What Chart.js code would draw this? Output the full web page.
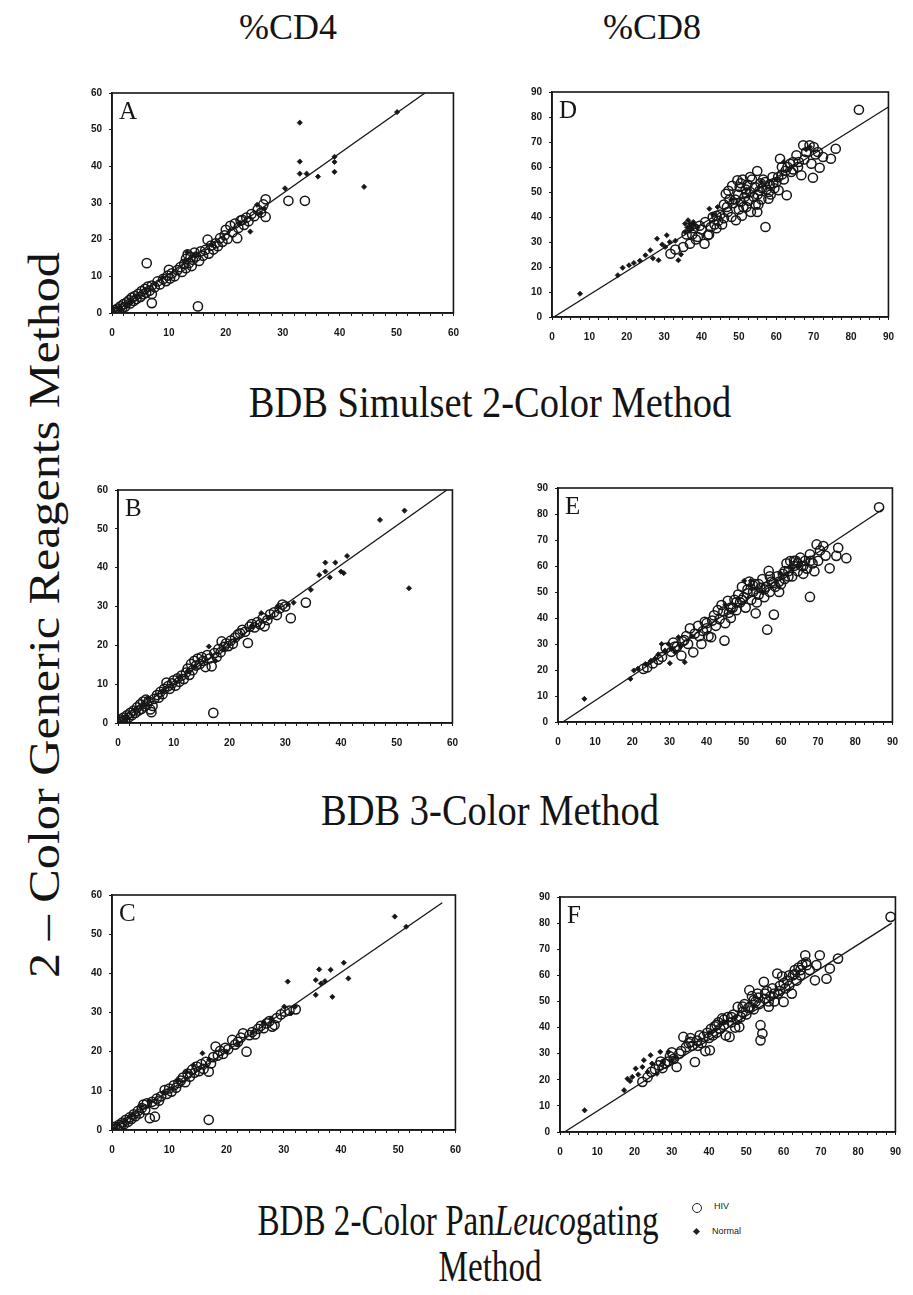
<!DOCTYPE html>
<html>
<head>
<meta charset="utf-8">
<script src="https://cdn.jsdelivr.net/npm/chart.js@4.4.1/dist/chart.umd.min.js"></script>
<style>
  body { margin: 0; background: #fff; width: 913px; height: 1295px; position: relative; overflow: hidden; }
  canvas.panel { position: absolute; }
  .t { position: absolute; white-space: nowrap; color: #141414; font-family: "Liberation Serif", "Times New Roman", serif; }
  .lg { position: absolute; font-family: "Liberation Sans", Arial, sans-serif; font-size: 9px; color: #222; }
</style>
</head>
<body>

<div class="t" style="left:288px; top:9px; font-size:36px; line-height:36px; transform:translateX(-50%);">%CD4</div>
<div class="t" style="left:652px; top:9px; font-size:36px; line-height:36px; transform:translateX(-50%);">%CD8</div>

<div class="t" style="left:45px; top:615px; font-size:44px; line-height:44px; transform:translate(-50%,-50%) rotate(-90deg) scaleX(1.14);">2 – Color Generic Reagents Method</div>

<div class="t" style="left:490px; top:385px; font-size:38.5px; line-height:38.5px; transform:translateX(-50%) scaleY(1.14); transform-origin:50% 85%;">BDB Simulset 2-Color Method</div>
<div class="t" style="left:490px; top:793px; font-size:38.5px; line-height:38.5px; transform:translateX(-50%) scaleY(1.14); transform-origin:50% 85%;">BDB 3-Color Method</div>
<div class="t" style="left:458px; top:1203px; font-size:38.5px; line-height:38.5px; transform:translateX(-50%) scale(0.86,1.14); transform-origin:50% 85%;">BDB 2-Color Pan<i>Leuco</i>gating</div>
<div class="t" style="left:490px; top:1249px; font-size:38.5px; line-height:38.5px; transform:translateX(-50%) scale(0.86,1.14); transform-origin:50% 85%;">Method</div>

<div style="position:absolute; left:692px; top:1203px; width:8px; height:8px; border:1.5px solid #222; border-radius:50%;"></div>
<div class="lg" style="left:714px; top:1201px;">HIV</div>
<div style="position:absolute; left:694px; top:1229px; width:5px; height:5px; background:#222; transform:rotate(45deg);"></div>
<div class="lg" style="left:712px; top:1226px;">Normal</div>

<canvas id="cA" class="panel"></canvas>
<canvas id="cD" class="panel"></canvas>
<canvas id="cB" class="panel"></canvas>
<canvas id="cE" class="panel"></canvas>
<canvas id="cC" class="panel"></canvas>
<canvas id="cF" class="panel"></canvas>

<script>
// ---- data: [x, y] pairs ----

// A: %CD4, Simulset 2-colour
var hivA = [[0.3,0.2],[0.5,0.8],[0.8,0.4],[1,1.2],[1.2,0.6],[1.5,1.8],[1.8,1.3],[2,2.4],[2.3,1.7],[2.6,2.9],[3,3.5],[3.2,2.6],[3.5,4.2],[3.8,3.3],[4,4.6],[4.3,3.8],[4.6,5.2],[5,4.4],[5.2,6],[5.5,5.1],[5.8,6.6],[6,5.5],[6.3,7.2],[6.6,6.1],[7,7.5],[7,2.7],[7,5.2],[6.1,13.6],[7.5,7],[8,8.6],[8.4,7.8],[9,9.3],[9.5,8.7],[9.8,10.2],[10,11.8],[10.2,9.4],[10.5,10.8],[11,10],[11.5,11.7],[12,12.5],[12.3,11.2],[12.7,13.4],[13,14.8],[13,12.2],[13.3,16],[13.5,13.6],[13.8,15.2],[14,12.8],[14.2,14.5],[14.5,16.5],[14.8,15.4],[15.1,1.8],[15.3,14.2],[15.6,16.8],[16,15.6],[16.4,17.2],[16.8,20],[17,16.2],[17.4,18.4],[17.8,17.3],[18.2,19],[18.6,18.2],[19,20.4],[19.4,19.4],[19.8,21.2],[20,22.7],[20.3,20.2],[20.8,23.8],[21.2,22],[21.6,24.4],[22,20.4],[22.2,23.2],[22.6,25.2],[22.9,25.4],[23.2,24],[23.6,26],[24,25],[24.5,27],[25,26.4],[25.6,28.2],[26.2,27.4],[26.6,29.6],[27,31],[27,26.2],[31,30.6],[33.9,30.6]];
var nrmA = [[0.5,0.3],[1.5,1.2],[3.3,3],[4.2,4.5],[8.8,9.6],[12.8,14.2],[13.2,16.6],[14.5,15.8],[17.5,18.6],[22.5,24.6],[24.3,22.2],[25.5,29.5],[26.1,27.2],[26.8,28.4],[30.4,34],[33,51.9],[33,41.3],[33,38],[34.2,38],[36.2,37.2],[39.1,42.6],[39.1,41.2],[39.1,38.5],[44.3,34.4],[50.1,54.8]];
var fitA = [[0,-0.3],[55,60]];

// D: %CD8, Simulset 2-colour
var hivD = [[31.7,25.3],[33,27],[35.1,28],[36.9,29.3],[37.5,33],[38,35.5],[38.5,31],[39.5,36.5],[40.8,29.3],[41.7,32.7],[41,38],[42.5,36],[43,40],[43.5,37],[44,35.5],[44.5,38.5],[45,41],[45.5,37],[46,39.5],[46.5,49.3],[46.8,44],[47,42],[47.5,47],[48,40],[48.5,45.5],[49.2,38.7],[49.6,54.7],[49.8,49],[50,43],[50.2,52],[50.5,46],[50.8,40.5],[51,55],[51.5,48],[51.8,51],[52,44],[52.3,53],[52.6,46.5],[53,50],[53.2,42],[53.5,55],[54,48],[54.3,52],[54.9,58.4],[54.9,42],[55.2,45],[55.5,50.5],[55.8,53.5],[56,47],[56.5,55],[57.1,36],[57.4,51],[57.9,47.3],[58.2,53],[58.5,49],[59,56],[59.5,51.5],[60,54],[60.6,50.7],[61,63.3],[61.5,57],[62,55],[62.8,48.7],[63,60],[63.7,61.3],[64,58],[64.5,62],[65.4,64.7],[65.8,60],[66.7,56.7],[67.2,68.7],[67.5,63],[68,66],[68.9,68.7],[69.4,61.3],[69.8,55.7],[70.5,65],[71.1,66],[71.6,59.7],[72.5,64],[74.6,63.3],[75.9,67.3],[82.1,82.9],
    [44,40.5],[46,45],[47.2,50.5],[48.2,52.5],[49,47],[50.5,53.5],[51.2,44],[52,49.5],[53,56],[54.5,45],[55,49],[56.2,51.5],[57,54],[58,50],[59.2,53.5],[60.5,56],[61.5,60],[62.5,58.5],[64.5,59],[66,62],[70,68],[40,35],[42,33],[36,33],[39,32]];
var nrmD = [[7.5,9.3],[17.6,16.7],[18.9,19.7],[20.6,20.7],[21.9,21.6],[23.5,22.5],[25,24.7],[26.3,26.7],[27,23.5],[28.1,31.3],[28.5,22.7],[29.5,29],[30.3,28],[30.7,32.7],[31.5,30],[33,30.5],[33.8,22.7],[34.5,25],[35.6,37.3],[35.6,34],[36.4,38.7],[36.9,37.3],[37.5,35.5],[38,37],[39,36],[42.1,43.3],[43,41],[44.3,44],[48,47],[52,51],[56,54],[60,55],[62,62],[68,67],[69,68],[36.2,35.8],[37,36.5],[36.8,34.5],[37.8,38]];
var fitD = [[0.5,0],[90,84]];

// B: %CD4, 3-colour
var hivB = [[0.2,0.3],[0.5,0.9],[0.8,0.5],[1,1.4],[1.3,0.8],[1.6,2],[1.9,1.4],[2.2,2.6],[2.5,2],[2.8,3.2],[3.1,2.6],[3.4,4],[3.7,3.2],[4,4.8],[4.2,3.6],[4.5,5.5],[4.8,4.3],[5,6],[5.2,4.8],[5.5,5.6],[5.8,3.5],[6,2.8],[6.2,4.4],[6.5,6.2],[7,7.2],[7.3,6.5],[7.6,8],[8,7.4],[8.3,8.8],[8.7,10.4],[9,9.5],[9.3,8.8],[9.7,10.2],[10,11],[10.3,9.6],[10.7,11.5],[11,10.6],[11.4,12.2],[11.8,11.3],[12.2,13],[12.5,14],[12.8,12.4],[13.1,15.2],[13.4,13.6],[13.7,16],[14,14.8],[14.3,16.6],[14.7,15.2],[15,17],[15.3,16],[15.7,14.4],[16,17.5],[16.4,16.6],[16.8,14.6],[17.1,2.6],[17.3,18],[17.7,17],[18,19],[18.4,18.2],[18.6,21],[19,19.6],[19.4,20.5],[19.8,19.8],[20.2,21.2],[20.6,20.4],[21,22],[21.5,22.8],[21.9,23.1],[22.3,24],[22.8,23.5],[23.3,20.6],[23.6,24.8],[24,25.5],[24.5,24.6],[25,26],[25.5,25.4],[26,27],[26.3,24.9],[26.8,26.5],[27.3,28],[28,28.5],[28.5,27.8],[29,29.5],[29.5,30.5],[30,30],[31,27],[33.7,31]];
var nrmB = [[0.6,0.2],[1.5,1.2],[3,3.4],[5.3,6.5],[8,8.2],[11,11.8],[12.5,13.4],[13.8,14.5],[16.3,19.7],[17.5,16],[19,19],[21,21.5],[24,25],[25.7,28.3],[27,27],[28.7,30],[30.5,30.6],[31.5,31],[34.6,34.3],[36.1,38.1],[37.2,39],[37.2,41.3],[38,37.5],[39,41.3],[40,39],[40.5,38.6],[41.1,43],[47,52.3],[51.4,54.7],[52.2,34.7]];
var fitB = [[0,0],[59,60]];

// E: %CD8, 3-colour
var hivE = [[23,20.4],[24,21],[25.5,22.5],[27,24],[28,25],[29,28.5],[30.5,27],[31,30.5],[32,29],[33.2,25.5],[33.5,31],[34.5,33],[35,30],[35.5,36],[36.4,26.8],[36.8,34],[37.7,37],[38.6,30],[39,35],[39.5,38.5],[40,36],[40.5,33],[41.2,32.6],[41.5,39],[42,41],[42.5,37],[43,43],[43.5,39.5],[44,45],[44.8,31.3],[45,38],[45.7,46.6],[46,42],[46.5,40],[47,44],[47.5,47],[48,43],[48.5,49],[49,46],[49.5,52],[50,48],[50.5,44],[51,51],[51.5,54],[52,47],[52.5,50],[53,53],[53.2,41.8],[53.5,46],[54,49],[54.5,51.5],[55,55],[55.5,48],[56,52],[56.3,35.5],[56.7,58.1],[57,50],[57.5,54],[58.1,41.3],[58.5,52],[59,56],[59.5,50],[60,53],[60.5,57],[61,55],[61.5,61],[62,58],[62.5,61.9],[63,56],[63.5,60],[64,62],[64.5,58],[65.2,63.2],[65.5,60],[66,57],[66.5,62],[67,59],[67.8,64.5],[67.8,48.1],[68.5,61],[69,58],[69.6,68.3],[70,62],[71.4,67.7],[72,64],[73.1,59.1],[74.9,63.9],[75.4,67],[77.6,63],[86.4,82.6],
    [44.5,42.5],[46.5,44],[48,46],[49.5,47],[51,49.5],[52.5,52.5],[54,53],[55.5,51],[57,56],[58,53.5],[59.5,54],[61,58],[62,56],[63.5,62],[64.5,61],[66,60],[68,62],[70.5,66],[38,33],[40,38],[34,31.5],[31.5,29]];
var nrmE = [[7.1,8.9],[19.5,16.6],[20.4,19.8],[21.5,20.5],[23.5,22.3],[25,23.5],[26.1,24.3],[27,26],[27.9,30],[28.8,27.5],[29.7,30],[30.1,22.6],[30.5,28],[31.5,26.8],[32.4,32.6],[33,29],[34.1,23],[36,33],[45,45],[50.1,54.3],[51.9,54.3],[52,52.5],[55,50],[60,57],[63,59],[65,60]];
var fitE = [[1.3,0],[87.6,82]];

// C: %CD4, PanLeucogating
var hivC = [[0.2,0.3],[0.5,0.8],[0.9,0.5],[1.2,1.3],[1.5,0.9],[1.8,1.9],[2.1,1.5],[2.4,2.6],[2.8,2.1],[3.1,3.2],[3.4,2.8],[3.8,4],[4.1,3.5],[4.5,4.8],[4.8,4.2],[5.2,5.6],[5.5,6.5],[5.8,5.2],[6.1,6.8],[6.6,3],[7.5,3.4],[7,7.2],[7.4,6.6],[7.8,8],[8.2,7.5],[8.6,8.6],[9.2,10.2],[9.6,9.2],[10,10.6],[10.4,9.8],[10.8,11.4],[11.2,10.8],[11.6,12],[12,12.6],[12.4,13.4],[12.8,12.2],[13.2,14.4],[13.6,13.6],[14,15.4],[14.4,14.6],[14.8,16.2],[15.2,15],[15.6,16.8],[16,15.6],[16.4,17.4],[16.9,14.9],[16.9,2.6],[17.3,17],[17.7,18.6],[18.1,21.3],[18.5,19],[18.9,20.2],[19.4,19.4],[19.8,21],[20.3,20.6],[21,23],[21.5,21.8],[22,22.5],[22.5,23.6],[22.9,24.7],[23.5,20],[24,24.2],[24.5,25],[25,24.4],[25.5,25.8],[26,26.6],[26.5,26],[27,27.2],[27.5,27.8],[28,26.4],[28.4,26.8],[28.8,28.6],[29.5,29.5],[30.2,30.2],[31,30.5],[32.1,30.8]];
var nrmC = [[0.4,0.2],[1,1.6],[2.2,2.2],[3.5,3.8],[5,6],[6.5,7.4],[9,9.6],[11.5,12.6],[13,14.8],[14.2,16.6],[15.8,19.6],[17,18],[20,20],[22,22],[24.5,24.8],[26.5,27.5],[27.8,28.5],[30.1,31.5],[30.7,37.9],[31.3,29.8],[32,31.5],[35.6,34.5],[35.6,38.3],[36.2,41],[36.5,37.4],[37.2,38],[38.2,40.9],[38.5,34],[40.5,42.7],[41.3,38.7],[49.4,54.5],[51.4,51.9]];
var fitC = [[0,0],[57.7,58]];

// F: %CD8, PanLeucogating
var hivF = [[22.1,19.2],[23.5,21],[24.5,23],[25.5,24],[26.5,25.5],[27.5,24.5],[28.2,26.2],[29,27],[29.5,29],[30.5,28],[31.3,24.9],[32,30],[32.5,31],[33.1,36.4],[33.8,32.5],[34.5,34],[35,36],[35.5,33],[36.2,26.8],[36.8,35],[37.5,37],[38,34],[38.5,36.5],[39,31],[39.5,38],[40.2,31.3],[40.5,39.5],[41,37],[41.5,40.5],[42,38],[42.5,42],[43,39.5],[43.5,43.5],[44,41],[44.5,37],[45,44],[45.5,36.4],[46,42],[46.5,45],[47,40],[47.7,47.9],[48.1,40.2],[48.5,44],[49,46],[49.5,49],[50,45],[50.8,54.3],[51,48],[51.5,52],[52,47],[52.5,50],[53,53],[53.5,49],[53.8,40.9],[53.8,35.1],[54.3,37.7],[54.7,57.5],[55,51],[55.5,54],[56,48],[56.5,52],[57,55],[57.5,50],[58.3,60.7],[58.5,53],[59,56],[59.6,59.6],[60,49.8],[60.5,55],[61,58],[61.5,56],[62.2,53],[62.5,60],[63,62],[63.5,58],[64,63],[64.5,60],[65,64],[65.8,67.7],[66.2,63.9],[67,62],[68.4,58.1],[68.8,63.9],[69.7,67.7],[71.5,58.7],[72.4,62.6],[74.6,66.4],[88.7,82.4],
    [44,43],[46,44],[47.5,43],[49,48],[50.5,47.5],[52,50.5],[53.2,51.5],[55,53],[56,50],[57.5,53],[59,54],[60,57],[61.5,60],[63,60.5],[64.5,62],[66,65],[37,33],[40,36],[42,41],[35,34.5],[30,30.5],[27,27]];
var nrmF = [[6.6,8.3],[17.2,16],[18.1,20.4],[18.8,19.5],[19.4,21.1],[20.3,24.3],[21,22],[22.1,24.9],[22.5,27.5],[23.5,23],[24.3,29.4],[24.7,26.2],[26,22.3],[26.9,30.7],[27.5,27],[29.1,30.7],[30,27.5],[31,28.5],[40,38],[44,42],[47,44],[52,48]];
var fitF = [[1.2,0],[89,80]];

// ---- drawing ----
var INK = '#161616';

// frame round the plot area + panel letter
var framePlugin = {
    id: 'frame',
    afterDraw: function (chart, args, opts) {
        var a = chart.chartArea;
        var ctx = chart.ctx;
        ctx.save();
        ctx.strokeStyle = INK;
        ctx.lineWidth = 1.6;
        ctx.strokeRect(a.left, a.top, a.right - a.left, a.bottom - a.top);
        ctx.fillStyle = INK;
        ctx.font = '25px "Liberation Serif", serif';
        ctx.textBaseline = 'alphabetic';
        ctx.fillText(opts.letter || '', a.left + 7, a.top + 26);
        ctx.restore();
    }
};

function toPts(arr) {
    return arr.map(function (p) { return { x: p[0], y: p[1] }; });
}

function makePanel(id, letter, box, max, hiv, nrm, fit) {
    var el = document.getElementById(id);
    // y axis 32px wide, x axis 30px tall, 14px top / 12px right padding
    var w = box.r - box.l + 44;
    var h = box.b - box.t + 44;
    el.width = w;
    el.height = h;
    el.style.left = (box.l - 32) + 'px';
    el.style.top = (box.t - 14) + 'px';
    el.style.width = w + 'px';
    el.style.height = h + 'px';

    var tickFont = { family: '"Liberation Sans", Arial, sans-serif', size: 10, weight: 'bold' };

    return new Chart(el.getContext('2d'), {
        type: 'scatter',
        data: {
            datasets: [{
                label: 'HIV',
                data: toPts(hiv),
                pointStyle: 'circle',
                pointRadius: 4.6,
                borderColor: INK,
                borderWidth: 1.5,
                backgroundColor: 'rgba(255,255,255,0)'
            }, {
                label: 'Normal',
                data: toPts(nrm),
                pointStyle: 'rectRot',
                pointRadius: 2.6,
                borderColor: INK,
                borderWidth: 0.8,
                backgroundColor: INK
            }, {
                type: 'line',
                label: 'fit',
                data: toPts(fit),
                borderColor: INK,
                borderWidth: 1.3,
                pointRadius: 0,
                fill: false
            }]
        },
        options: {
            responsive: false,
            animation: false,
            devicePixelRatio: 1,
            layout: { padding: { top: 14, right: 12, left: 0, bottom: 0 } },
            plugins: {
                legend: { display: false },
                tooltip: { enabled: false },
                frame: { letter: letter }
            },
            scales: {
                x: {
                    type: 'linear',
                    min: 0,
                    max: max,
                    afterFit: function (s) { s.height = 30; },
                    border: { color: INK, width: 1.6 },
                    grid: { drawOnChartArea: false, tickLength: 3, color: INK, lineWidth: 1 },
                    ticks: {
                        stepSize: max === 60 ? 2 : 2.5,
                        autoSkip: false,
                        maxRotation: 0,
                        padding: 11,
                        color: INK,
                        font: tickFont,
                        callback: function (v) { return v % 10 === 0 ? v : ''; }
                    }
                },
                y: {
                    type: 'linear',
                    min: 0,
                    max: max,
                    afterFit: function (s) { s.width = 32; },
                    border: { color: INK, width: 1.6 },
                    grid: { drawOnChartArea: false, tickLength: 3, color: INK, lineWidth: 1 },
                    ticks: {
                        stepSize: 10,
                        padding: 7,
                        color: INK,
                        font: tickFont
                    }
                }
            }
        },
        plugins: [framePlugin]
    });
}

document.addEventListener('DOMContentLoaded', function () {
    makePanel('cA', 'A', { l: 112, t: 93, r: 458, b: 313 }, 60, hivA, nrmA, fitA);
    makePanel('cD', 'D', { l: 552, t: 92, r: 893, b: 317 }, 90, hivD, nrmD, fitD);
    makePanel('cB', 'B', { l: 118, t: 490, r: 457, b: 723 }, 60, hivB, nrmB, fitB);
    makePanel('cE', 'E', { l: 558, t: 488, r: 897, b: 722 }, 90, hivE, nrmE, fitE);
    makePanel('cC', 'C', { l: 112, t: 895, r: 460, b: 1130 }, 60, hivC, nrmC, fitC);
    makePanel('cF', 'F', { l: 560, t: 897, r: 900, b: 1132 }, 90, hivF, nrmF, fitF);
});
</script>
</body>
</html>
